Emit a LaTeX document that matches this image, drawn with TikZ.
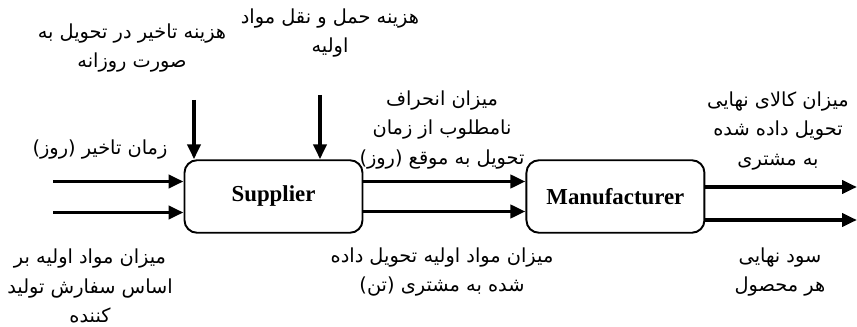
\documentclass[tikz,border=0pt]{standalone}
\usepackage{fontspec}
\setmainfont{Liberation Serif}
\newfontfamily\fafont[Script=Arabic]{DejaVu Sans}
\TeXXeTstate=1
\newcommand{\rtl}[1]{\beginR #1\endR}
\usetikzlibrary{arrows.meta, positioning}

\begin{document}
\begin{tikzpicture}[
    block/.style={rectangle, rounded corners=2.5mm, draw=black, line width=1.1pt, align=center, minimum width=3.56cm, minimum height=1.45cm, font=\bfseries\fontsize{13}{15}\selectfont},
    note/.style={align=center, inner sep=0pt, font=\fafont\fontsize{11}{17}\selectfont},
    flow/.style={-{Triangle[length=3mm, width=2.6mm]}, line width=2.2pt}
]
\useasboundingbox (0,0) rectangle (17.14,6.52);
\node[block] (sup) at (5.47,2.59) {Supplier};
\node[block, right=3.24cm of sup] (man) {Manufacturer};

% inputs of the supplier
\coordinate (in1) at (1.06,2.89);
\coordinate (in2) at (1.06,2.27);
\coordinate (top1) at (3.88,4.52);
\coordinate (top2) at (6.40,4.62);
\draw[flow] (in1) -- (in1 -| sup.west);
\draw[flow] (in2) -- (in2 -| sup.west);
\draw[flow] (top1) -- (top1 |- sup.north);
\draw[flow] (top2) -- (top2 |- sup.north);

% supplier to manufacturer
\coordinate (mid1) at ([yshift=3mm]sup.east);
\coordinate (mid2) at ([yshift=-3mm]sup.east);
\draw[flow] (mid1) -- (mid1 -| man.west);
\draw[flow] (mid2) -- (mid2 -| man.west);

% outputs
\coordinate (out1) at (17.14,2.78);
\coordinate (out2) at (17.14,2.12);
\draw[flow] (out1 -| man.east) -- (out1);
\draw[flow] (out2 -| man.east) -- (out2);

\node[note] (delaycost) at (2.64,5.56) {\rtl{هزینه تاخیر در تحویل به}\\\rtl{صورت روزانه}};
\node[note] (transcost) at (6.60,5.86) {\rtl{هزینه حمل و نقل مواد}\\\rtl{اولیه}};
\node[note] (delaytime) at (2.0,3.52) {\rtl{زمان تاخیر (روز)}};
\node[note] (rawqty) at (1.8,0.8) {\rtl{میزان مواد اولیه بر}\\\rtl{اساس سفارش تولید}\\\rtl{کننده}};
\node[note] (deviation) at (8.84,3.92) {\rtl{میزان انحراف}\\\rtl{نامطلوب از زمان}\\\rtl{تحویل به موقع (روز)}};
\node[note] (delivered) at (8.84,1.08) {\rtl{میزان مواد اولیه تحویل داده}\\\rtl{شده به مشتری (تن)}};
\node[note] (finalqty) at (15.56,3.9) {\rtl{میزان کالای نهایی}\\\rtl{تحویل داده شده}\\\rtl{به مشتری}};
\node[note] (profit) at (15.6,1.08) {\rtl{سود نهایی}\\\rtl{هر محصول}};
\end{tikzpicture}
\end{document}
